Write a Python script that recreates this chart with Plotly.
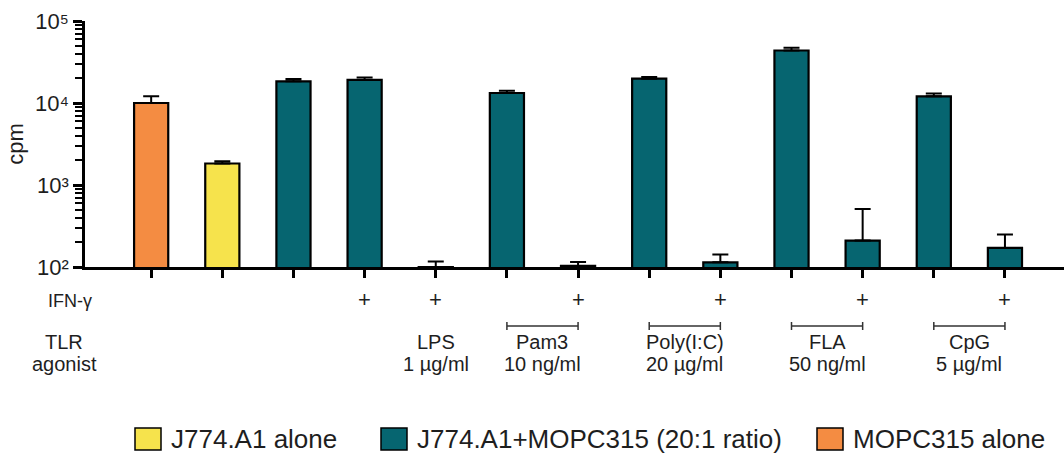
import plotly.graph_objects as go

# ---------------- data ----------------
positions = list(range(13))
groups = ["MOPC315 alone", "J774.A1 alone"] + ["J774.A1+MOPC315 (20:1 ratio)"] * 11
cpm = [10000, 1830, 18400, 19100, 100, 13250, 103, 19800, 114, 43700, 210, 12050, 171]
err_plus = [2050, 120, 1260, 1300, 17, 900, 12, 900, 28, 3400, 298, 1050, 78]
ifn_gamma = ["", "", "", "+", "+", "", "+", "", "+", "", "+", "", "+"]

agonist_names = ["LPS", "Pam3", "Poly(I:C)", "FLA", "CpG"]
agonist_conc = ["1 µg/ml", "10 ng/ml", "20 µg/ml", "50 ng/ml", "5 µg/ml"]
agonist_span = [(4, 4), (5, 6), (7, 8), (9, 10), (11, 12)]

legend_order = ["J774.A1 alone", "J774.A1+MOPC315 (20:1 ratio)", "MOPC315 alone"]
colors = {
    "J774.A1 alone": "#F6E34C",
    "J774.A1+MOPC315 (20:1 ratio)": "#066570",
    "MOPC315 alone": "#F48C42",
}

ytick_vals = [100, 1000, 10000, 100000]
ytick_text = ["10²", "10³", "10⁴", "10⁵"]
minor_vals = [m * 10 ** e for e in (2, 3, 4) for m in range(2, 10)]

FONT = "Liberation Sans, Arial, sans-serif"
TXT = "#1e1e1e"

fig = go.Figure()
for g in legend_order:
    idx = [i for i, gg in enumerate(groups) if gg == g]
    fig.add_trace(go.Bar(
        x=[positions[i] for i in idx],
        y=[cpm[i] for i in idx],
        name=g,
        width=0.48,
        marker=dict(color=colors[g], line=dict(color="black", width=2.2)),
        error_y=dict(type="data", symmetric=False,
                     array=[err_plus[i] for i in idx],
                     arrayminus=[0] * len(idx),
                     color="black", thickness=2, width=8),
        showlegend=False,
    ))

annotations = []
shapes = []

# paper-y helper: plot area from y=21 (top) to y=267 (bottom) in pixels
H_TOP, H_BOT = 21.0, 267.0
def py(pix):
    return (H_BOT - pix) / (H_BOT - H_TOP)

def txt(x, xref, y, text, size, xanchor="center", xshift=0):
    return dict(x=x, xref=xref, y=y, yref="paper", text=text, showarrow=False,
                xanchor=xanchor, yanchor="middle", xshift=xshift,
                font=dict(size=size, color=TXT, family=FONT))

# IFN-gamma row
annotations.append(txt(-0.93, "x", py(301), "IFN-γ", 18, xanchor="left", xshift=-39))
for p, s in zip(positions, ifn_gamma):
    if s:
        annotations.append(txt(p, "x", py(299), s, 22))

# TLR agonist rows
annotations.append(txt(-0.93, "x", py(342), "TLR", 20, xshift=-21))
annotations.append(txt(-0.93, "x", py(364), "agonist", 20, xshift=-21))
for name, conc, (a, b) in zip(agonist_names, agonist_conc, agonist_span):
    xc = (a + b) / 2
    annotations.append(txt(xc, "x", py(342), name, 20))
    annotations.append(txt(xc, "x", py(364), conc, 20))
    if b > a:
        shapes.append(dict(type="line", xref="x", yref="paper", x0=a, x1=b,
                           y0=py(326), y1=py(326), line=dict(color="#333333", width=1.5)))
        for e in (a, b):
            shapes.append(dict(type="line", xref="x", yref="paper", x0=e, x1=e,
                               y0=py(322), y1=py(330), line=dict(color="#333333", width=1.5)))

# custom legend (large boxes like the original)
W = 1064 - 85
def pxp(pix):
    return (pix - 85) / W
legend_x = [135, 381, 817]
for g, lx in zip(legend_order, legend_x):
    shapes.append(dict(type="rect", xref="paper", yref="paper",
                       x0=pxp(lx), x1=pxp(lx + 26), y0=py(450), y1=py(428),
                       fillcolor=colors[g], line=dict(color="black", width=1.5)))
    annotations.append(txt(pxp(lx + 34), "paper", py(439), g, 26, xanchor="left"))

fig.update_layout(
    width=1064, height=455,
    margin=dict(l=85, r=0, t=21, b=188),
    plot_bgcolor="white", paper_bgcolor="white",
    font=dict(family=FONT, color=TXT),
    annotations=annotations, shapes=shapes,
    bargap=0.5,
)
fig.update_xaxes(
    range=[-0.93, 12.83], tickvals=positions,
    showticklabels=False, ticks="outside", ticklen=8, tickwidth=2.5, tickcolor="black",
    showline=True, linecolor="black", linewidth=2.5, showgrid=False, zeroline=False,
)
fig.update_yaxes(
    type="log", range=[2, 5], tickvals=ytick_vals, ticktext=ytick_text,
    ticks="outside", ticklen=9, tickwidth=2.5, tickcolor="black",
    minor=dict(tickvals=minor_vals, ticks="outside", ticklen=7, tickwidth=2, tickcolor="black"),
    showline=True, linecolor="black", linewidth=2.5, showgrid=False, zeroline=False,
    tickfont=dict(size=22, color=TXT, family=FONT),
    title=dict(text="cpm", font=dict(size=22, color=TXT, family=FONT), standoff=6),
)

fig.write_html("out.html", config={"displayModeBar": False},
               post_script="document.body.style.margin='0';document.body.style.padding='0';")
